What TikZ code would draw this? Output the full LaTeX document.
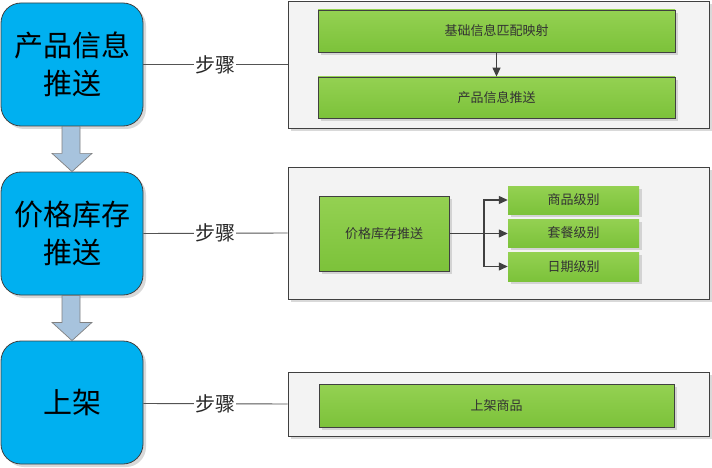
\documentclass[tikz,border=0pt]{standalone}
\usepackage{fontspec}
\newfontfamily\cjk{Noto Sans CJK SC}
\usetikzlibrary{shadows,arrows.meta,calc}
\definecolor{bluebox}{HTML}{00B0F0}
\definecolor{panelfill}{HTML}{F3F3F3}
\definecolor{edge}{HTML}{404040}
\definecolor{gtop}{HTML}{94D152}
\definecolor{gbot}{HTML}{7CC23A}
\definecolor{fatfill}{HTML}{A7C3DD}
\definecolor{fatedge}{HTML}{808080}
\definecolor{txt}{HTML}{333333}
\tikzset{
  dropsh/.style={drop shadow={shadow xshift=3pt,shadow yshift=-3pt,fill=black!25,opacity=0.6}},
  mainbox/.style={draw=edge,line width=0.8pt,fill=bluebox,rounded corners=20pt,inner sep=0pt,
    align=center,font=\cjk\fontsize{29}{38}\selectfont,dropsh},
  panel/.style={draw=edge,line width=0.9pt,fill=panelfill,inner sep=0pt,dropsh},
  greenbox/.style={draw=edge,line width=0.8pt,top color=gtop,bottom color=gbot,inner sep=0pt,
    text=txt,font=\cjk\fontsize{13}{15}\selectfont,dropsh},
  smallbox/.style={draw=none,top color=gtop,bottom color=gbot,inner sep=0pt,
    text=txt,font=\cjk\fontsize{13}{15}\selectfont,dropsh},
  link/.style={draw=edge!90,line width=0.9pt},
  steplabel/.style={fill=white,inner sep=1pt,font=\cjk\fontsize{20}{22}\selectfont,text=black!85},
  arr/.style={draw=edge,line width=1.2pt,-{Triangle[width=8pt,length=9pt]}},
  fatarrow/.style={draw=fatedge,line width=0.7pt,fill=fatfill},
}
\begin{document}
\begin{tikzpicture}[x=1pt,y=-1pt]
\useasboundingbox (0,0) rectangle (712,468);
% left boxes
\node[mainbox,minimum width=142pt,minimum height=123pt] (b1) at (72,64.5) {产品信息\\推送};
\node[mainbox,minimum width=142pt,minimum height=123pt] (b2) at (72,233.5) {价格库存\\推送};
\node[mainbox,minimum width=142pt,minimum height=123pt] (b3) at (72,402.5) {上架};
% panels
\node[panel,minimum width=421pt,minimum height=127pt] (p1) at (498.5,64.5) {};
\node[panel,minimum width=421pt,minimum height=132pt] (p2) at (498.5,233) {};
\node[panel,minimum width=421pt,minimum height=64pt] (p3) at (498.5,404) {};
% green boxes
\node[greenbox,minimum width=357pt,minimum height=42pt] (g1) at (496.5,31) {基础信息匹配映射};
\node[greenbox,minimum width=357pt,minimum height=41pt] (g2) at (496.5,97.5) {产品信息推送};
\node[greenbox,minimum width=130pt,minimum height=75pt] (g3) at (384,233.5) {价格库存推送};
\node[smallbox,minimum width=131pt,minimum height=28pt] (s1) at (573.5,200) {商品级别};
\node[smallbox,minimum width=131pt,minimum height=28pt] (s2) at (573.5,233) {套餐级别};
\node[smallbox,minimum width=131pt,minimum height=29pt] (s3) at (573.5,266.5) {日期级别};
\node[greenbox,minimum width=355pt,minimum height=43pt] (g4) at (496.5,405.5) {上架商品};
% links with labels
\draw[link] (b1.east) -- node[steplabel] {步骤} (p1.west);
\draw[link] (b2.east) -- node[steplabel] {步骤} (p2.west);
\draw[link] ($(b3.east)+(0,1)$) -- node[steplabel] {步骤} ($(p3.west)+(0,0)$);
% inner arrows
\draw[arr] (g1.south) -- (g2.north);
\coordinate (br) at (484,233.5);
\draw[draw=edge,line width=1.2pt] (g3.east) -- (br);
\draw[arr] (br) |- (s1.west);
\draw[arr] (br) -- (s2.west |- br);
\draw[arr] (br) |- (s3.west);
% fat arrows
\foreach \a/\b in {b1/b2,b2/b3}{
  \draw[fatarrow] ($(\a.south)+(-10,0)$) -- ($(\a.south)+(-10,27)$) -- ($(\a.south)+(-20,27)$)
    -- (\b.north) -- ($(\a.south)+(20,27)$) -- ($(\a.south)+(8,27)$) -- ($(\a.south)+(8,0)$) -- cycle;
}
\end{tikzpicture}
\end{document}
